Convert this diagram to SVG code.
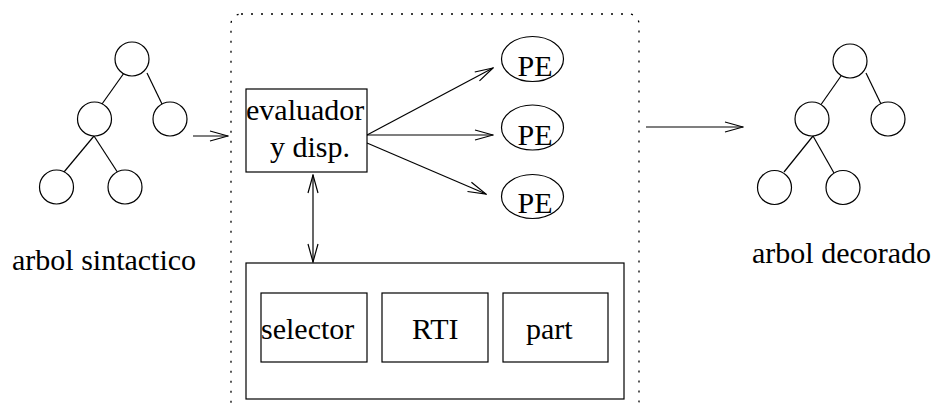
<svg xmlns="http://www.w3.org/2000/svg" width="934" height="409" viewBox="0 0 934 409">
  <style>
    .ln { stroke: #000; stroke-width: 1.2; fill: none; }
    .nd { stroke: #000; stroke-width: 1.2; fill: #fff; }
    .tx { font-family: "Liberation Serif", "Times New Roman", serif; font-size: 30px; fill: #000; }
    .dot { stroke: #000; stroke-width: 1.3; fill: none; stroke-dasharray: 2 8; }
  </style>
  <defs>
    <marker id="open" markerUnits="userSpaceOnUse" markerWidth="20" markerHeight="12" refX="19" refY="6" orient="auto-start-reverse">
      <path d="M1,1 L19,6 L1,11" fill="none" stroke="#000" stroke-width="1.2"/>
    </marker>
  </defs>

  <!-- parallel evaluation environment -->
  <rect id="environment" class="dot" x="231" y="14" width="408" height="398" rx="10"/>

  <!-- connectors -->
  <g id="connectors">
    <!-- syntax tree edges -->
    <line class="ln" x1="124" y1="73" x2="102" y2="104"/>
    <line class="ln" x1="147" y1="73" x2="162" y2="104"/>
    <line class="ln" x1="94" y1="136" x2="64" y2="172"/>
    <line class="ln" x1="94" y1="136" x2="118" y2="173"/>
    <!-- decorated tree edges -->
    <line class="ln" x1="841" y1="76" x2="820" y2="106"/>
    <line class="ln" x1="866" y1="73" x2="881" y2="104"/>
    <line class="ln" x1="813" y1="136" x2="784" y2="172"/>
    <line class="ln" x1="813" y1="136" x2="834" y2="173"/>
    <!-- flow arrows -->
    <line class="ln" x1="193" y1="136" x2="228" y2="136" marker-end="url(#open)"/>
    <line class="ln" x1="646" y1="127" x2="743" y2="127" marker-end="url(#open)"/>
    <line class="ln" x1="367" y1="135" x2="493" y2="68" marker-end="url(#open)"/>
    <line class="ln" x1="367" y1="135" x2="493" y2="135" marker-end="url(#open)"/>
    <line class="ln" x1="367" y1="143" x2="486" y2="194" marker-end="url(#open)"/>
    <line class="ln" x1="313" y1="175" x2="313" y2="262" marker-start="url(#open)" marker-end="url(#open)"/>
  </g>

  <!-- syntax tree -->
  <g id="syntax-tree">
    <circle class="nd" cx="132" cy="59" r="17"/>
    <circle class="nd" cx="94.5" cy="119" r="17"/>
    <circle class="nd" cx="170" cy="119" r="17"/>
    <circle class="nd" cx="56.5" cy="187" r="17"/>
    <circle class="nd" cx="125" cy="187" r="17"/>
    <text class="tx" x="12" y="270">arbol sintactico</text>
  </g>

  <!-- decorated tree -->
  <g id="decorated-tree">
    <circle class="nd" cx="850" cy="61" r="17"/>
    <circle class="nd" cx="812" cy="119" r="17"/>
    <circle class="nd" cx="888" cy="119" r="17"/>
    <circle class="nd" cx="774.5" cy="187.5" r="17"/>
    <circle class="nd" cx="843" cy="187.5" r="17"/>
    <text class="tx" x="752" y="263">arbol decorado</text>
  </g>

  <!-- evaluator and dispatcher -->
  <g id="evaluador">
    <rect class="nd" x="246" y="89" width="121" height="83"/>
    <text class="tx" x="246" y="120">evaluador</text>
    <text class="tx" x="310" y="157" text-anchor="middle">y disp.</text>
  </g>

  <!-- processing elements -->
  <g id="pe1">
    <ellipse class="nd" cx="532.5" cy="59" rx="31" ry="22.5"/>
    <text class="tx" x="535" y="76" text-anchor="middle">PE</text>
  </g>
  <g id="pe2">
    <ellipse class="nd" cx="532.5" cy="127.5" rx="31" ry="22.5"/>
    <text class="tx" x="535" y="145" text-anchor="middle">PE</text>
  </g>
  <g id="pe3">
    <ellipse class="nd" cx="532.5" cy="196.5" rx="31" ry="22"/>
    <text class="tx" x="535" y="213" text-anchor="middle">PE</text>
  </g>

  <!-- runtime support block -->
  <g id="runtime">
    <rect class="nd" x="246" y="263" width="378" height="136"/>
  </g>
  <g id="selector">
    <rect class="nd" x="261" y="293" width="106" height="69"/>
    <text class="tx" x="261" y="339">selector</text>
  </g>
  <g id="rti">
    <rect class="nd" x="382" y="293" width="106" height="69"/>
    <text class="tx" x="412" y="339">RTI</text>
  </g>
  <g id="part">
    <rect class="nd" x="503" y="293" width="105" height="69"/>
    <text class="tx" x="526" y="339">part</text>
  </g>
</svg>
